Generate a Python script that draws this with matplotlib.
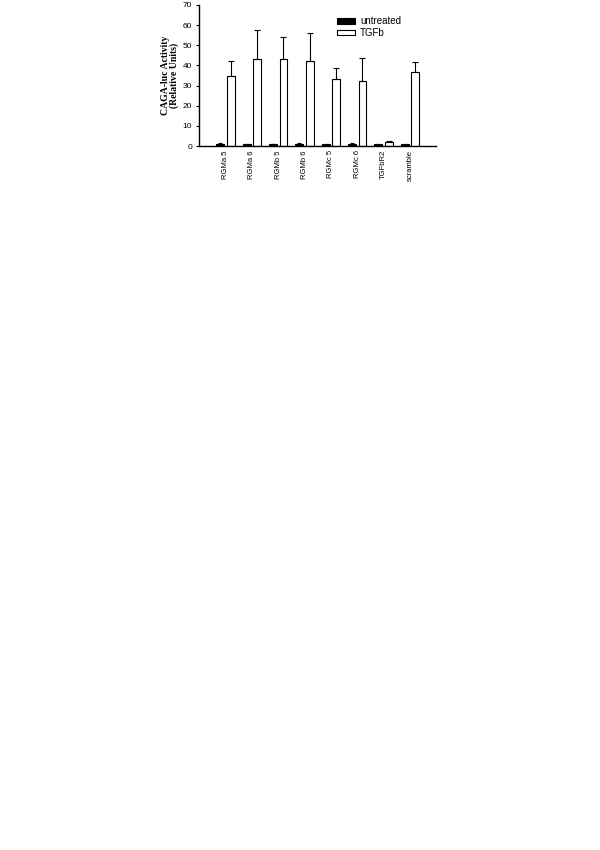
import numpy as np
import matplotlib
matplotlib.use("Agg")
import matplotlib.pyplot as plt

# data
groups = ["RGMa 5", "RGMa 6", "RGMb 5", "RGMb 6", "RGMc 5", "RGMc 6", "TGFbR2", "scramble"]
untreated = [1.0, 1.0, 1.0, 1.1, 0.9, 1.1, 0.8, 0.9]
untreated_err = [0.3, 0.2, 0.2, 0.3, 0.2, 0.4, 0.2, 0.2]
tgfb = [34.5, 43.0, 43.2, 42.2, 33.2, 32.2, 2.2, 36.8]
tgfb_err = [7.5, 14.5, 10.8, 14.1, 5.6, 11.3, 0.5, 5.0]
yticks = [0, 10, 20, 30, 40, 50, 60, 70]

fig = plt.figure(figsize=(6, 8.5), dpi=100)
ax = fig.add_axes([0.332, 0.8282, 0.395, 0.166])

x = np.arange(len(groups))
w = 0.3
ax.bar(x - 0.2, untreated, w, color="black", edgecolor="black", lw=0.8,
       yerr=untreated_err, error_kw=dict(ecolor="black", lw=0.8, capsize=1.5, capthick=0.8),
       label="untreated")
ax.bar(x + 0.2, tgfb, w, color="white", edgecolor="black", lw=0.8,
       yerr=[np.zeros(len(tgfb)), tgfb_err],
       error_kw=dict(ecolor="black", lw=0.8, capsize=2.5, capthick=0.8),
       label="TGFb")

ax.set_xlim(-1, 8)
ax.set_ylim(0, 70)
ax.set_yticks(yticks)
ax.set_xticks(x)
ax.set_xticklabels(groups, rotation=90, fontsize=5.5, family="Liberation Sans")
ax.tick_params(axis="x", length=0, pad=3)
ax.tick_params(axis="y", length=2, width=0.8, labelsize=6, pad=3)
for t in ax.get_yticklabels():
    t.set_family("Liberation Sans")

for s in ["top", "right"]:
    ax.spines[s].set_visible(False)
for s in ["left", "bottom"]:
    ax.spines[s].set_linewidth(1.0)

ax.set_ylabel("CAGA-luc Activity\n(Relative Units)", fontsize=7, fontweight="bold",
              family="Liberation Serif", labelpad=2.5, linespacing=1.0)

leg = ax.legend(loc="upper left", bbox_to_anchor=(0.582, 0.92), frameon=False,
                borderaxespad=0, borderpad=0, handlelength=1.85, handleheight=0.5,
                handletextpad=0.5, labelspacing=0.2,
                prop={"family": "Liberation Sans", "size": 7})

fig.savefig("out.png", dpi=100)
